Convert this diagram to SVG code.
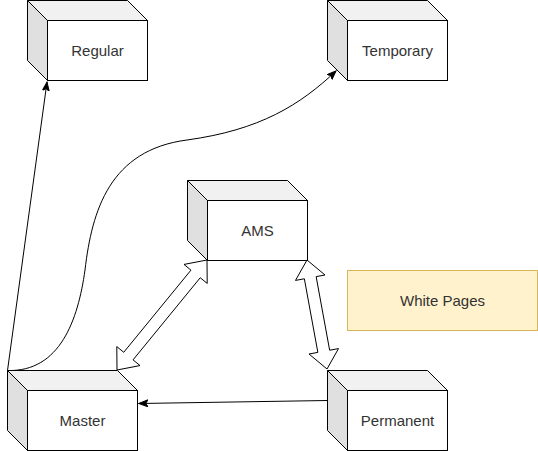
<svg xmlns="http://www.w3.org/2000/svg" width="538" height="451" viewBox="0 0 538 451">
<style>
.top{fill:#f1f1f1;stroke:#000;stroke-width:1}
.side{fill:#e0e0e0;stroke:#000;stroke-width:1}
.front{fill:#fff;stroke:#000;stroke-width:1}
.lbl{font-family:"Liberation Sans",Arial,sans-serif;font-size:15px;fill:#333;text-anchor:middle;dominant-baseline:central}
.edge{fill:none;stroke:#000;stroke-width:1}
.flex{fill:#fff;stroke:#000;stroke-width:1;stroke-linejoin:miter}
</style>
<defs>
<marker id="arr" markerWidth="10" markerHeight="8" refX="9" refY="4" orient="auto" markerUnits="userSpaceOnUse">
<path d="M0,0.5 L9,4 L0,7.5 L2.5,4 Z" fill="#000" stroke="#000" stroke-width="1"/>
</marker>
</defs>
<rect width="538" height="451" fill="#fff"/>
<g id="connectors">
<path class="edge" d="M7.5 370.5 L47 82" marker-end="url(#arr)"/>
<path class="edge" d="M7.5 370.5 C60 372,78 320,85 270 C92 210,110 150,187 140 C260 130,300 105,336 71" marker-end="url(#arr)"/>
<path class="edge" d="M327.5 400.5 L139 403.5" marker-end="url(#arr)"/>
<polygon class="flex" points="207,260 207.21,283.43 200.24,277.73 133.04,359.87 140.01,365.57 117,370 116.79,346.57 123.76,352.27 190.96,270.13 183.99,264.43"/>
<polygon class="flex" points="307,260 325,274.99 316.15,276.62 329.65,350.22 338.5,348.59 327,369 309,354.01 317.85,352.38 304.35,278.78 295.5,280.41"/>
</g>
<g id="regular">
<path class="top" d="M27.5 0.5 L127.5 0.5 L147.5 20.5 L47.5 20.5 Z"/>
<path class="side" d="M27.5 0.5 L47.5 20.5 L47.5 80.5 L27.5 60.5 Z"/>
<rect class="front" x="47.5" y="20.5" width="100" height="60"/>
<text class="lbl" x="97.5" y="50.5">Regular</text>
</g>
<g id="temporary">
<path class="top" d="M327.5 0.5 L427.5 0.5 L447.5 20.5 L347.5 20.5 Z"/>
<path class="side" d="M327.5 0.5 L347.5 20.5 L347.5 80.5 L327.5 60.5 Z"/>
<rect class="front" x="347.5" y="20.5" width="100" height="60"/>
<text class="lbl" x="397.5" y="50.5">Temporary</text>
</g>
<g id="ams">
<path class="top" d="M187.5 180.5 L287.5 180.5 L307.5 200.5 L207.5 200.5 Z"/>
<path class="side" d="M187.5 180.5 L207.5 200.5 L207.5 260.5 L187.5 240.5 Z"/>
<rect class="front" x="207.5" y="200.5" width="100" height="60"/>
<text class="lbl" x="257.5" y="230.5">AMS</text>
</g>
<g id="master">
<path class="top" d="M7.5 370.5 L117.5 370.5 L137.5 390.5 L27.5 390.5 Z"/>
<path class="side" d="M7.5 370.5 L27.5 390.5 L27.5 450.5 L7.5 430.5 Z"/>
<rect class="front" x="27.5" y="390.5" width="110" height="60"/>
<text class="lbl" x="82.5" y="420.5">Master</text>
</g>
<g id="permanent">
<path class="top" d="M327.5 370.5 L427.5 370.5 L447.5 390.5 L347.5 390.5 Z"/>
<path class="side" d="M327.5 370.5 L347.5 390.5 L347.5 450.5 L327.5 430.5 Z"/>
<rect class="front" x="347.5" y="390.5" width="100" height="60"/>
<text class="lbl" x="397.5" y="420.5">Permanent</text>
</g>
<g id="whitepages">
<rect x="347.5" y="270.5" width="190" height="60" fill="#fff2cc" stroke="#d6b656" stroke-width="1"/>
<text class="lbl" x="442.5" y="300.5">White Pages</text>
</g>
</svg>
